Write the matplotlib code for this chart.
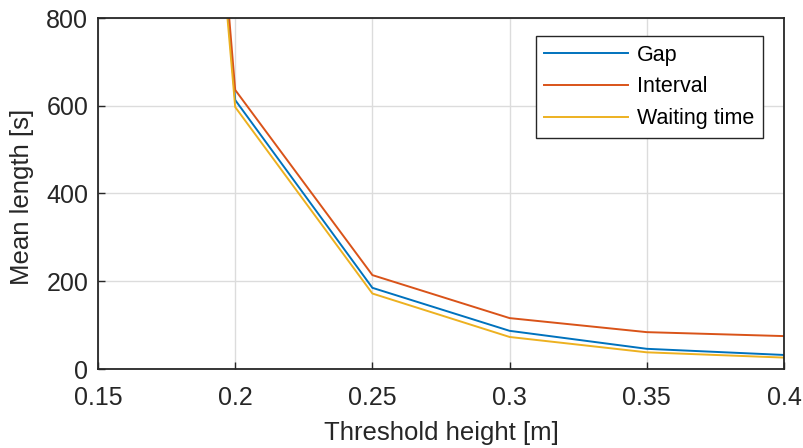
import matplotlib
matplotlib.use("Agg")
import matplotlib.pyplot as plt

plt.rcParams['font.family'] = ['Liberation Sans', 'DejaVu Sans']

threshold = [0.15, 0.20, 0.25, 0.30, 0.35, 0.40]
gap = [4300, 613, 185, 87, 46, 32]
interval = [4400, 636, 214, 116, 84, 75]
waiting = [4200, 597, 172, 73, 38, 26]

xticks = [0.15, 0.2, 0.25, 0.3, 0.35, 0.4]
xticklabels = ['0.15', '0.2', '0.25', '0.3', '0.35', '0.4']
yticks = [0, 200, 400, 600, 800]

W, H = 804, 448
fig = plt.figure(figsize=(W/100, H/100), dpi=100)
ax = fig.add_axes([98/W, 1-369/H, (784-98)/W, (369-18)/H])

ax.plot(threshold, gap, color='#0072BD', lw=1.4, label='Gap')
ax.plot(threshold, interval, color='#D95319', lw=1.4, label='Interval')
ax.plot(threshold, waiting, color='#EDB120', lw=1.4, label='Waiting time')

ax.set_xlim(0.15, 0.4)
ax.set_ylim(0, 800)
ax.set_xticks(xticks)
ax.set_xticklabels(xticklabels)
ax.set_yticks(yticks)
ax.grid(True, color='#dcdcdc', lw=1)
ax.set_axisbelow(True)
ax.tick_params(direction='in', length=5, width=1, labelsize=18, colors='#262626', labelcolor='#262626')
ax.tick_params(axis='x', pad=12)
ax.tick_params(axis='y', pad=7)
for s in ax.spines.values():
    s.set_color('#262626')
    s.set_linewidth(1.3)
ax.set_xlabel('Threshold height [m]', fontsize=18.5, color='#262626')
ax.set_ylabel('Mean length [s]', fontsize=18.5, color='#262626')
ax.xaxis.set_label_coords(441/W, 1-421/H, transform=fig.transFigure)
ax.yaxis.set_label_coords(34/W, 1-197/H, transform=fig.transFigure)

leg = ax.legend(loc='upper right', bbox_to_anchor=(763/W, 1-36/H), bbox_transform=fig.transFigure,
                fontsize=15.5, fancybox=False, framealpha=1, edgecolor='#262626',
                handlelength=3.9, borderpad=0.4, labelspacing=0.5, handletextpad=0.42,
                borderaxespad=0)
leg.get_frame().set_linewidth(1.0)

fig.savefig('out.png', dpi=100)
